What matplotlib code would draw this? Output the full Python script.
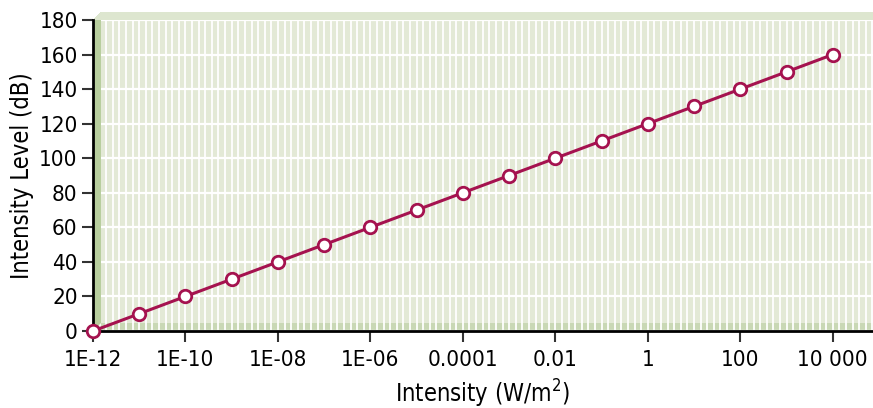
import numpy as np
import matplotlib
matplotlib.use("Agg")
import matplotlib.pyplot as plt
from matplotlib.patches import Polygon

# Data
intensity = [1e-12, 1e-11, 1e-10, 1e-9, 1e-8, 1e-7, 1e-6, 1e-5, 1e-4, 1e-3,
             1e-2, 1e-1, 1, 10, 100, 1000, 10000]
level_db = [0, 10, 20, 30, 40, 50, 60, 70, 80, 90, 100, 110, 120, 130, 140, 150, 160]
xtick_vals = [1e-12, 1e-10, 1e-8, 1e-6, 1e-4, 1e-2, 1, 100, 10000]
xtick_labels = ["1E-12", "1E-10", "1E-08", "1E-06", "0.0001", "0.01", "1", "100", "10 000"]
ytick_vals = [0, 20, 40, 60, 80, 100, 120, 140, 160, 180]

plt.rcParams['font.family'] = ['DejaVu Sans']
plt.rcParams['font.stretch'] = 'condensed'

W, H = 873, 408
fig = plt.figure(figsize=(W / 100, H / 100), dpi=100)
L, R, B, T = 93, 873, 331, 20
ax = fig.add_axes([L / W, 1 - B / H, (R - L) / W, (B - T) / H])

bg = "#e3e9d6"
ax.set_facecolor(bg)
ax.set_xscale("log")
xmax_exp = 4.87
ax.set_xlim(1e-12, 10 ** xmax_exp)
ax.set_ylim(0, 180)

# grid: dense vertical white lines, horizontal at major y ticks
for e in np.arange(-12, xmax_exp, 1 / 7):
    ax.axvline(10 ** e, color="white", lw=1.3, zorder=0.5)
ax.set_axisbelow(True)
ax.grid(True, which="major", axis="y", color="white", lw=1.6)
ax.minorticks_off()

ax.set_xticks(xtick_vals)
ax.set_xticklabels(xtick_labels)
ax.set_yticks(ytick_vals)

# 3D-ish decorations
dx = 8 / (R - L)
dy = 8 / (B - T)
floor = Polygon([(0, 0), (dx, dy), (1, dy), (1, 0)], closed=True, transform=ax.transAxes,
                facecolor="#c9d8b5", edgecolor="none", zorder=0.3)
ax.add_patch(floor)
wall = Polygon([(0, 0), (dx, dy), (dx, 1 + dy), (0, 1)], closed=True, transform=ax.transAxes,
               facecolor="#b8ce9e", edgecolor="none", zorder=1, clip_on=False)
ax.add_patch(wall)
top = Polygon([(0, 1), (dx, 1 + dy), (1, 1 + dy), (1, 1)], closed=True, transform=ax.transAxes,
              facecolor="#dde6cf", edgecolor="none", zorder=1, clip_on=False)
ax.add_patch(top)

col = "#a5124f"
ax.plot(intensity, level_db, color=col, lw=2.2, marker="o", ms=9,
        mfc="white", mec=col, mew=2.0, zorder=5, clip_on=False)

for s in ["top", "right"]:
    ax.spines[s].set_visible(False)
for s in ["left", "bottom"]:
    ax.spines[s].set_linewidth(2)
    ax.spines[s].set_color("black")
    ax.spines[s].set_zorder(4)

ax.tick_params(axis="both", which="major", direction="out", length=8, width=1.5,
               labelsize=16, color="#333333")
ax.tick_params(axis="x", pad=6)
ax.tick_params(axis="y", pad=3)

ax.set_xlabel("Intensity (W/m$^2$)", fontsize=17, labelpad=5)
ax.set_ylabel("Intensity Level (dB)", fontsize=17, labelpad=4)

fig.savefig("out.png", dpi=100)
